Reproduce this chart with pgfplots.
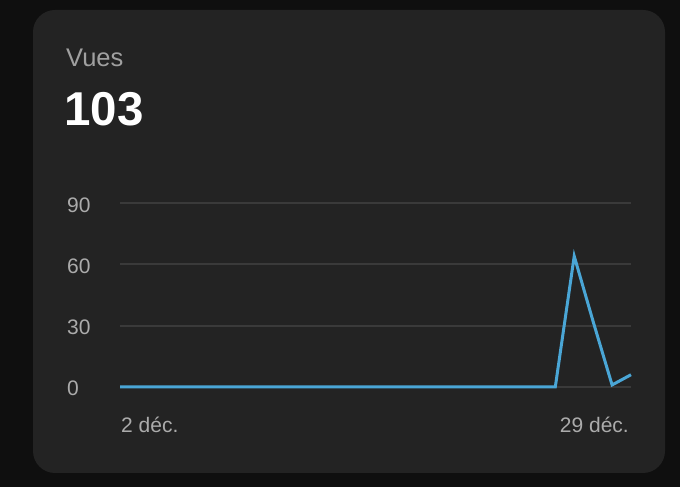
\documentclass[border=0pt]{standalone}
\usepackage{pgfplots}
\pgfplotsset{compat=1.18}
\usepackage{fontspec}
\setmainfont{Liberation Sans}

\definecolor{outerbg}{HTML}{0F0F0F}
\definecolor{cardbg}{HTML}{232323}
\definecolor{gridgray}{HTML}{3A3A3A}
\definecolor{titlegray}{HTML}{A0A0A0}
\definecolor{tickgray}{HTML}{ABABAB}
\definecolor{lineblue}{HTML}{4AA6D6}

\begin{document}
\begin{tikzpicture}[x=1pt,y=1pt]
	% background and card
	\fill[outerbg] (0,0) rectangle (680,487);
	\fill[cardbg, rounded corners=22pt] (33,14) rectangle (665,477);
	\node[anchor=base west, inner sep=0pt, text=titlegray,
		font=\fontsize{25.5}{28}\selectfont] at (66,420) {Vues};
	\node[anchor=base west, inner sep=0pt, text=white,
		font=\fontsize{47.5}{50}\selectfont\bfseries] at (64,361) {103};

	\begin{axis}[
		at={(120pt,100pt)}, anchor=south west,
		scale only axis,
		width=511pt, height=184pt,
		xmin=2, xmax=29,
		ymin=0, ymax=90,
		clip=false,
		axis line style={draw=none},
		major tick length=0pt,
		ytick={0,30,60,90},
		xtick={2},
		xticklabels={2 déc.},
		extra x ticks={29},
		extra x tick labels={29 déc.},
		extra x tick style={
			xticklabel style={anchor=base east, xshift=-3pt},
			grid=none},
		ymajorgrids=true,
		grid style={gridgray, line width=2pt},
		/pgf/number format/assume math mode=true,
		ticklabel style={text=tickgray, font=\fontsize{21}{24}\selectfont},
		xticklabel style={anchor=base west, inner sep=0pt, yshift=-46pt, xshift=1pt},
		yticklabel style={anchor=base west, inner sep=0pt, xshift=-53pt, yshift=-9pt},
		]
		\addplot[lineblue, line width=3pt, miter limit=10] coordinates {
			(2,0)(3,0)(4,0)(5,0)(6,0)(7,0)(8,0)(9,0)(10,0)(11,0)
			(12,0)(13,0)(14,0)(15,0)(16,0)(17,0)(18,0)(19,0)(20,0)
			(21,0)(22,0)(23,0)(24,0)(25,0)(26,64)(27,32)(28,1)(29,6)
		};
	\end{axis}
\end{tikzpicture}
\end{document}
